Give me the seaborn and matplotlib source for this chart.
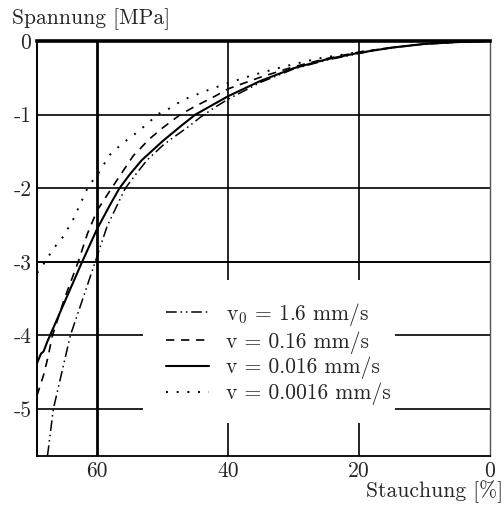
import matplotlib
matplotlib.use("Agg")
import matplotlib.pyplot as plt
import seaborn as sns
import numpy as np
import pandas as pd
from matplotlib.patches import Rectangle

# ---- data ----
x_16 = [67.6, 66.7, 64.1, 62.0, 60.3, 58.5, 57.0, 55.7, 54.0, 52.4, 50.0, 48.9, 46.0, 44.3, 42.0, 40.0,
        35.0, 30.0, 25.0, 20.0, 15.0, 10.0, 5.0, 0.0]
y_16 = [-5.64, -5.0, -4.0, -3.45, -3.0, -2.52, -2.24, -2.0, -1.8, -1.62, -1.42, -1.345, -1.16, -1.04, -0.9, -0.79,
        -0.56, -0.38, -0.26, -0.17, -0.09, -0.04, -0.015, 0.0]

x_016 = [69.2, 68.2, 67.5, 66.9, 65.0, 62.9, 61.5, 60.0, 57.8, 56.0, 54.5, 52.0, 50.0, 47.3, 45.3, 42.0, 40.0,
         35.0, 30.0, 25.0, 20.0, 15.0, 10.0, 5.0, 0.0]
y_016 = [-4.82, -4.54, -4.29, -4.02, -3.5, -3.0, -2.62, -2.3, -2.0, -1.76, -1.56, -1.33, -1.18, -1.0, -0.9, -0.75, -0.65,
         -0.49, -0.35, -0.24, -0.15, -0.09, -0.04, -0.015, 0.0]

x_0016 = [69.2, 68.6, 68.2, 67.6, 67.2, 65.0, 62.3, 60.0, 58.0, 56.6, 55.0, 53.2, 50.0, 47.0, 45.0, 42.0, 40.0,
          35.0, 30.0, 25.0, 20.0, 15.0, 10.0, 5.0, 0.0]
y_0016 = [-4.38, -4.25, -4.22, -4.08, -4.0, -3.55, -3.0, -2.55, -2.22, -2.0, -1.81, -1.62, -1.36, -1.14, -1.0, -0.85, -0.75,
          -0.54, -0.37, -0.25, -0.16, -0.09, -0.04, -0.015, 0.0]

x_00016 = [69.2, 68.6, 68.0, 66.5, 65.2, 63.7, 62.0, 61.4, 60.0, 58.0, 56.0, 54.6, 52.0, 50.9, 49.4, 47.8, 46.6,
           43.3, 40.0, 36.1, 31.6, 26.4, 20.0, 15.0, 10.0, 5.0, 0.0]
y_00016 = [-3.15, -3.1, -3.0, -2.8, -2.66, -2.43, -2.1, -1.98, -1.82, -1.54, -1.38, -1.29, -1.1, -1.0, -0.94, -0.85, -0.79,
           -0.675, -0.57, -0.46, -0.35, -0.24, -0.15, -0.09, -0.04, -0.015, 0.0]

labels = [r"$\mathrm{v}_0$ = 1.6 mm/s", "v = 0.16 mm/s", "v = 0.016 mm/s", "v = 0.0016 mm/s"]
xticks = [60, 40, 20, 0]
yticks = [0, -1, -2, -3, -4, -5]
ytick_labels = ["0", "-1", "-2", "-3", "-4", "-5"]
xtick_labels = ["60", "40", "20", "0"]

# ---- style ----
sns.set_style("white")
plt.rcParams["font.family"] = ["cmr10", "DejaVu Serif"]
plt.rcParams["mathtext.fontset"] = "cm"
plt.rcParams["axes.formatter.use_mathtext"] = True
plt.rcParams["axes.unicode_minus"] = False
FS = 15.5

fig = plt.figure(figsize=(5.04, 5.07), dpi=100)
ax = fig.add_axes([37/504, 1 - 456/507, 453/504, 415/507])

series = [(x_16, y_16, (0, (7, 2.5, 1, 2.5, 1, 2.5))),
          (x_016, y_016, (0, (5, 4))),
          (x_0016, y_0016, "-"),
          (x_00016, y_00016, (0, (1, 4.5)))]
lws = [1.1, 1.2, 1.5, 1.4]
for (xs, ys, ls), lab, lw in zip(series, labels, lws):
    df = pd.DataFrame({"x": xs, "y": ys})
    sns.lineplot(data=df, x="x", y="y", ax=ax, color="black", linestyle=ls, lw=lw,
                 sort=False, estimator=None, label=lab, zorder=4)

ax.set_xlim(69.2, 0)
ax.set_ylim(-5.64, 0)
ax.set_xticks(xticks)
ax.set_xticklabels(xtick_labels, fontsize=FS)
ax.set_yticks(yticks)
ax.set_yticklabels(ytick_labels, fontsize=FS)
ax.tick_params(length=0, pad=4)
ax.set_xlabel("")
ax.set_ylabel("")

# grid
for xv in [60, 40, 20]:
    ax.axvline(xv, color="black", lw=2.0 if xv == 60 else 1.2, zorder=1)
for yv in [-1, -2, -3, -4, -5]:
    ax.axhline(yv, color="black", lw=1.4 if yv == -3 else 1.2, zorder=1)

# spines
for s, lw in [("top", 2.6), ("left", 1.4), ("bottom", 1.3), ("right", 1.0)]:
    ax.spines[s].set_visible(True)
    ax.spines[s].set_linewidth(lw)
    ax.spines[s].set_color("black")
ax.spines["right"].set_color("#555555")

# white area behind legend
ax.add_patch(Rectangle(((143-37)/453, (456-423)/415), (395-143)/453, (423-280)/415,
                       transform=ax.transAxes, facecolor="white", edgecolor="none", zorder=2))

leg = ax.legend(loc="upper left", bbox_to_anchor=((166-37)/453, (456-301)/415), frameon=False,
                fontsize=FS, handlelength=2.0, handletextpad=0.8, labelspacing=0.15, borderpad=0,
                borderaxespad=0)
leg.set_zorder(5)

fig.text(12/504, 1 - 24/507, "Spannung [MPa]", fontsize=FS, ha="left", va="baseline")
fig.text(503/504, 1 - 497/507, "Stauchung [%]", fontsize=FS, ha="right", va="baseline")

fig.savefig("out.png", dpi=100)
